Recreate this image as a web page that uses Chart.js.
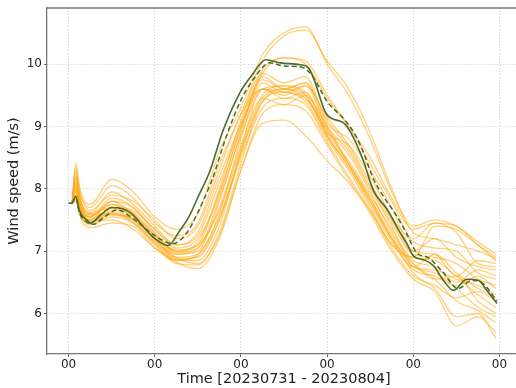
<!DOCTYPE html>
<html>
<head>
<meta charset="utf-8">
<script src="https://cdn.jsdelivr.net/npm/chart.js@4"></script>
<style>
html,body{margin:0;padding:0;background:#fff;overflow:hidden;}
#wrap{width:522px;height:388px;position:relative;}
</style>
</head>
<body>
<div id="wrap"><canvas id="c" width="522" height="388"></canvas></div>
<script>
// ---- data ----
const xTickHours = [0, 24, 48, 72, 96, 120];
const xTickLabels = ['00', '00', '00', '00', '00', '00'];
const yTicks = [6, 7, 8, 9, 10];
const xTitle = 'Time [20230731 - 20230804]';
const yTitle = 'Wind speed (m/s)';

const obsHours = [0,1,2,3,5.5,6,9,12,15,17.6,21.3,24,27.7,31,33.5,36,39.4,43,47.7,51,55,59,64.5,66.8,68.2,71.9,76.5,78.9,82.1,84.9,88.6,92.3,94.2,96.1,99,101.6,104.4,107.2,110.9,114.2,116.5,119.3];
const obsValues = [7.77,7.77,7.88,7.65,7.48,7.45,7.58,7.70,7.68,7.60,7.36,7.20,7.09,7.33,7.55,7.86,8.29,8.93,9.54,9.82,10.07,10.02,9.99,9.94,9.78,9.19,9.06,8.87,8.45,7.97,7.68,7.30,7.12,6.92,6.86,6.77,6.53,6.37,6.55,6.53,6.37,6.16];

const meanHours = [1,2,3,5,7,10,13.5,18,24,29,33,36,40,44,48,52,56,60,65,68,72,77,80,82,85,88,91,94,97,100,104,108.5,112.3,115,119.3];
const meanValues = [7.77,7.86,7.62,7.47,7.43,7.55,7.66,7.52,7.25,7.12,7.30,7.62,8.15,8.85,9.42,9.80,10.02,9.97,9.95,9.80,9.40,9.10,8.85,8.60,8.15,7.85,7.60,7.30,6.97,6.90,6.68,6.40,6.53,6.50,6.20];

const memberHours = [1,2,3,4,6,12,18,24,30,36,42,48,54,60,66,72,78,84,90,96,102,108,114,119];
const member01 = [7.77,8.42,8.05,7.85,7.75,8.15,7.95,7.55,7.35,7.60,8.60,9.30,10.15,10.50,10.60,10.00,9.50,8.80,7.95,7.40,7.50,7.40,7.15,6.95];
const member02 = [7.77,8.30,7.95,7.80,7.70,8.05,7.85,7.45,7.25,7.45,8.40,9.20,10.05,10.45,10.55,10.05,9.60,8.90,8.00,7.30,7.20,7.10,7.00,6.88];
const member03 = [7.77,8.20,7.90,7.70,7.60,7.95,7.75,7.40,7.10,7.30,8.20,9.05,9.90,10.10,10.00,9.45,9.00,8.50,7.85,7.35,7.45,7.30,6.80,6.75];
const member04 = [7.77,8.10,7.85,7.65,7.55,7.85,7.70,7.30,7.00,7.10,8.00,9.10,9.85,9.70,9.80,9.05,8.80,8.30,7.70,7.00,6.95,6.60,6.85,6.80];
const member05 = [7.77,8.05,7.80,7.60,7.50,7.80,7.60,7.25,6.95,7.00,7.80,8.90,9.80,9.60,9.70,9.00,8.60,8.00,7.40,6.75,6.70,6.55,6.45,6.30];
const member06 = [7.77,8.00,7.75,7.60,7.55,7.75,7.55,7.20,6.90,6.95,7.60,8.80,9.70,9.55,9.65,8.95,8.55,7.95,7.30,6.80,6.55,6.20,6.05,5.85];
const member07 = [7.77,7.95,7.70,7.55,7.50,7.70,7.65,7.35,7.05,7.20,7.90,9.00,9.60,9.45,9.55,8.90,8.70,8.20,7.55,7.15,7.05,7.00,6.65,6.55];
const member08 = [7.77,7.90,7.65,7.50,7.45,7.65,7.50,7.15,6.85,6.85,7.40,8.60,9.50,9.65,9.55,9.00,8.40,7.80,7.20,6.65,6.40,5.95,6.00,5.60];
const member09 = [7.77,8.35,8.00,7.80,7.65,7.90,7.80,7.50,7.20,7.40,8.30,9.20,9.60,9.55,9.45,8.85,8.35,7.75,7.15,6.70,6.60,6.45,6.60,6.40];
const member10 = [7.77,8.15,7.85,7.70,7.60,7.60,7.45,7.10,6.80,6.78,7.30,8.40,9.40,9.55,9.40,8.80,8.30,7.70,7.10,6.90,6.85,6.60,6.30,6.10];
const member11 = [7.77,7.85,7.62,7.50,7.42,7.55,7.45,7.15,6.95,7.05,7.70,8.70,9.45,9.35,9.50,8.90,8.45,7.90,7.35,6.85,6.75,6.50,6.70,6.60];
const member12 = [7.77,8.25,7.90,7.72,7.62,7.70,7.55,7.20,6.88,6.90,7.50,8.50,9.30,9.45,9.35,8.75,8.20,7.65,7.05,6.60,6.45,6.25,6.35,6.20];
const member13 = [7.77,7.80,7.60,7.45,7.38,7.45,7.40,7.05,6.85,6.95,7.55,8.55,9.45,9.60,9.45,8.95,8.40,7.85,7.25,6.75,6.65,6.40,6.10,5.95];
const member14 = [7.77,8.05,7.75,7.58,7.48,7.50,7.35,7.05,6.82,6.72,7.20,8.30,9.20,9.35,9.25,8.70,8.15,7.60,7.00,6.55,6.35,5.80,5.95,5.70];
const member15 = [7.77,7.95,7.70,7.55,7.45,7.60,7.50,7.20,6.90,6.80,7.25,8.30,9.05,9.10,8.85,8.45,8.10,7.65,7.10,6.90,7.40,7.35,7.10,6.90];
const member16 = [7.77,8.12,7.82,7.65,7.55,7.80,7.70,7.35,7.10,7.25,8.10,9.00,9.85,10.10,10.05,9.50,9.00,8.40,7.80,7.20,7.45,7.40,7.10,6.85];
const member17 = [7.77,7.88,7.66,7.52,7.46,7.58,7.52,7.22,7.00,7.15,7.95,8.95,9.75,9.60,9.70,9.10,8.65,8.05,7.45,6.95,6.90,6.80,6.55,6.45];
const member18 = [7.77,8.18,7.88,7.68,7.58,7.75,7.62,7.28,6.98,7.05,7.85,8.85,9.60,9.65,9.50,8.85,8.35,7.80,7.20,6.80,6.55,6.60,6.20,6.00];
const member19 = [7.77,8.08,7.78,7.62,7.52,7.68,7.58,7.25,7.02,7.10,7.65,8.65,9.60,9.50,9.65,9.15,8.70,8.10,7.50,7.00,7.20,6.90,6.75,6.70];
const member20 = [7.77,7.98,7.72,7.56,7.48,7.62,7.48,7.12,6.86,6.92,7.50,8.60,9.40,9.60,9.50,8.85,8.40,7.85,7.20,6.75,6.95,6.65,6.40,6.25];
const members = [member01,member02,member03,member04,member05,member06,member07,member08,member09,member10,
                 member11,member12,member13,member14,member15,member16,member17,member18,member19,member20];

// ---- build ----
const toXY = (hs, vs) => hs.map((h, i) => ({x: h, y: vs[i]}));
const datasets = [];
datasets.push({data: toXY(obsHours, obsValues), borderColor: '#4b6b2a', borderWidth: 1.6, order: 0});
datasets.push({data: toXY(meanHours, meanValues), borderColor: '#4b6b2a', borderWidth: 1.5, borderDash: [5, 3], order: 1});
members.forEach(m => datasets.push({data: toXY(memberHours, m), borderColor: 'rgba(255,170,20,0.55)', borderWidth: 1.3, order: 2}));

const font = {family: 'DejaVu Sans', size: 12, lineHeight: 1};
const titleFont = {family: 'DejaVu Sans', size: 14.5, lineHeight: 1.2};
const topSpine = {
  id: 'topSpine',
  afterDraw(chart) {
    const {ctx, chartArea} = chart;
    ctx.save();
    ctx.strokeStyle = '#777';
    ctx.lineWidth = 1.3;
    ctx.beginPath();
    ctx.moveTo(chartArea.left, chartArea.top);
    ctx.lineTo(chartArea.right, chartArea.top);
    ctx.stroke();
    ctx.restore();
  }
};
const gridOpts = {color: 'rgba(160,160,160,0.65)', lineWidth: 0.8, tickLength: 3, tickColor: '#666', tickBorderDash: [], tickWidth: 1};
const borderOpts = {display: true, color: '#777', width: 1.3, dash: [1, 2]};

new Chart(document.getElementById('c'), {
  type: 'line',
  data: {datasets},
  plugins: [topSpine],
  options: {
    responsive: false,
    devicePixelRatio: 1,
    animation: false,
    layout: {padding: {top: 6, right: 1, left: 0, bottom: 0}},
    elements: {point: {radius: 0}, line: {cubicInterpolationMode: 'monotone', fill: false}},
    plugins: {legend: {display: false}, tooltip: {enabled: false}},
    scales: {
      x: {
        type: 'linear', min: -6, max: 126,
        afterBuildTicks: s => { s.ticks = xTickHours.map(v => ({value: v})); },
        afterFit: s => { s.height = 34; },
        ticks: {font, color: '#222', padding: 2, maxRotation: 0, autoSkip: false,
                callback: (v) => { const i = xTickHours.indexOf(v); return i >= 0 ? xTickLabels[i] : ''; }},
        grid: gridOpts,
        border: borderOpts,
        title: {display: true, text: xTitle, font: titleFont, color: '#222', padding: {top: 0, bottom: 0}}
      },
      y: {
        type: 'linear', min: 5.35, max: 10.9,
        afterBuildTicks: s => { s.ticks = yTicks.map(v => ({value: v})); },
        afterFit: s => { s.width = 47; },
        ticks: {font, color: '#222', padding: 2},
        grid: gridOpts,
        border: borderOpts,
        title: {display: true, text: yTitle, font: titleFont, color: '#222', padding: {top: 6, bottom: 0}}
      }
    }
  }
});
</script>
</body>
</html>
